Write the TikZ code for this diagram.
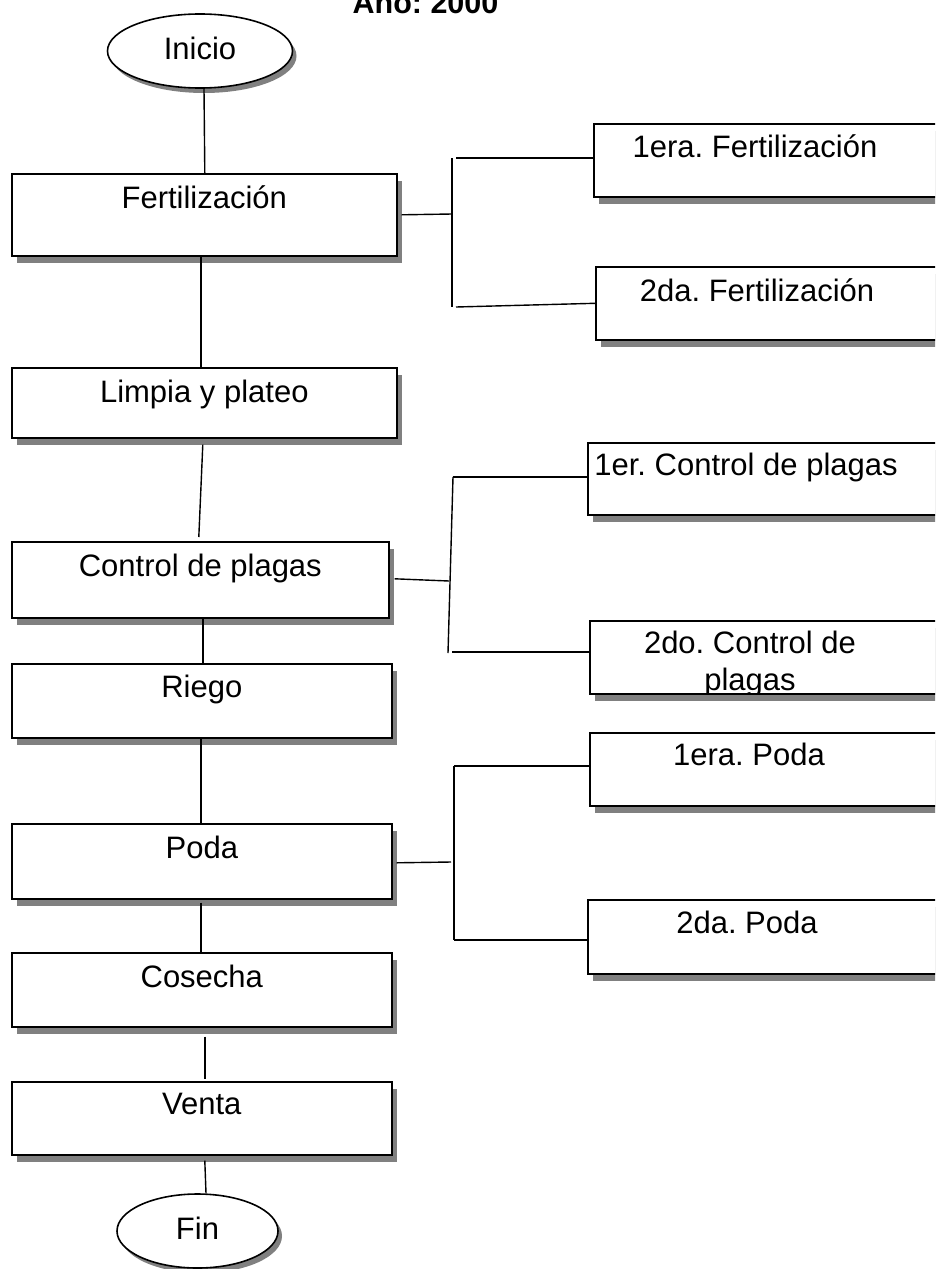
\documentclass[tikz,border=0pt]{standalone}
\usepackage{fontspec}
\setmainfont{Liberation Sans}
\usetikzlibrary{shapes.geometric,shadows}
\newcommand\lbfont{\fontsize{31}{37}\selectfont}
\frenchspacing
\tikzset{
  shad/.style={drop shadow={shadow xshift=5pt, shadow yshift=-7pt, opacity=1, fill=black!50}},
  box/.style={draw, line width=1.6pt, fill=white, rectangle, inner sep=0pt, anchor=north west, shad},
  oval/.style={draw, line width=1.6pt, fill=white, ellipse, inner sep=0pt, font=\lbfont,
    text height=22pt, text depth=6pt,
    drop shadow={shadow xshift=4pt, shadow yshift=-5pt, opacity=1, fill=black!50}},
  lbl/.style={font=\lbfont, anchor=base, inner sep=0pt},
  conn/.style={line width=1.4pt},
}
\begin{document}
\begin{tikzpicture}[x=1pt,y=-1pt]
\useasboundingbox (0,0) rectangle (935,1269);
\clip (0,0) rectangle (935,1269);
\fill[white] (0,0) rectangle (935,1269);

% title
\node[anchor=base, inner sep=0pt, font=\bfseries\fontsize{30.5}{36}\selectfont] (title) at (425.5,13) {Año: 2000};

% main column
\node[oval, minimum width=185pt, minimum height=74pt] (ini) at (200,51) {Inicio};
\node[box, minimum width=385pt, minimum height=82pt] (fert)  at (11,173) {};
\node[box, minimum width=385pt, minimum height=70pt] (limp)  at (11,367) {};
\node[box, minimum width=377pt, minimum height=76pt] (ctrl)  at (11,541) {};
\node[box, minimum width=380pt, minimum height=74pt] (riego) at (11,663) {};
\node[box, minimum width=380pt, minimum height=75pt] (poda)  at (11,823) {};
\node[box, minimum width=380pt, minimum height=74pt] (cos)   at (11,952) {};
\node[box, minimum width=380pt, minimum height=73pt] (venta) at (11,1081) {};
\node[oval, minimum width=161pt, minimum height=74pt] (fin) at (197.5,1231) {Fin};

\node[lbl] (tfert)  at ([yshift=-35pt]fert.north)  {Fertilización};
\node[lbl] (tlimp)  at ([yshift=-35pt]limp.north)  {Limpia y plateo};
\node[lbl] (tctrl)  at ([yshift=-35pt]ctrl.north)  {Control de plagas};
\node[lbl] (triego) at ([yshift=-34pt]riego.north) {Riego};
\node[lbl] (tpoda)  at ([yshift=-35pt]poda.north)  {Poda};
\node[lbl] (tcos)   at ([yshift=-35pt]cos.north)   {Cosecha};
\node[lbl] (tventa) at ([yshift=-33pt]venta.north) {Venta};

% right column
\node[box, minimum width=380pt, minimum height=73pt] (f1) at (593,123) {};
\node[box, minimum width=380pt, minimum height=73pt] (f2) at (595,266) {};
\node[box, minimum width=380pt, minimum height=72pt] (c1) at (587,442) {};
\node[box, minimum width=380pt, minimum height=73pt] (c2) at (589,620) {};
\node[box, minimum width=380pt, minimum height=73pt] (p1) at (589,732) {};
\node[box, minimum width=380pt, minimum height=74pt] (p2) at (587,899) {};

\node[lbl] (tf1) at ([xshift=162pt,yshift=-34pt]f1.north west) {1era. Fertilización};
\node[lbl] (tf2) at ([xshift=162pt,yshift=-35pt]f2.north west) {2da. Fertilización};
\node[lbl] (tc1) at ([xshift=159pt,yshift=-33pt]c1.north west) {1er. Control de plagas};
\node[lbl] (tc2a) at ([xshift=161pt,yshift=-33pt]c2.north west) {2do. Control de};
\begin{scope}
  \clip ([yshift=-0.8pt]c2.north west) rectangle ([yshift=0.8pt]c2.south east);
  \node[lbl] (tc2b) at ([xshift=161pt,yshift=-70pt]c2.north west) {plagas};
\end{scope}
\node[lbl] (tp1) at ([xshift=160pt,yshift=-33pt]p1.north west) {1era. Poda};
\node[lbl] (tp2) at ([xshift=160pt,yshift=-34pt]p2.north west) {2da. Poda};

% main connectors
\draw[conn] ([xshift=4pt]ini.south) -- ([xshift=0.5pt]fert.north);
\draw[conn] ([xshift=-3.5pt]fert.south) -- ([xshift=-3.5pt]limp.north);
\draw[conn] ([xshift=-1.5pt,yshift=-6pt]limp.south) -- ([xshift=-1.5pt,yshift=4pt]ctrl.north);
\draw[conn] ([xshift=2.5pt]ctrl.south) -- ([xshift=1pt]riego.north);
\draw[conn] ([xshift=-1pt]riego.south) -- ([xshift=-1pt]poda.north);
\draw[conn] ([xshift=-1pt,yshift=-3pt]poda.south) -- ([xshift=-1pt]cos.north);
\draw[conn] ([xshift=3pt,yshift=-9pt]cos.south) -- ([xshift=3pt,yshift=2pt]venta.north);
\draw[conn] ([xshift=3pt,yshift=-5pt]venta.south) -- ([xshift=8.5pt]fin.north);

% Fertilizacion branch
\coordinate (fjt) at (452,158);
\coordinate (fjm) at (452,214);
\coordinate (fjb) at (452,307);
\draw[conn] ([xshift=4pt]fert.east) -- (fjm);
\draw[conn] (fjt) -- (fjb);
\draw[conn] ([xshift=4pt]fjt) -- (fjt -| f1.west);
\draw[conn] ([xshift=4pt]fjb) -- (f2.west);

% Control branch
\coordinate (cjt) at (453,477);
\coordinate (cjm) at (449,581);
\coordinate (cjb) at (448,653);
\draw[conn] ([xshift=5pt,yshift=1pt]ctrl.east) -- (cjm);
\draw[conn] (cjt) -- (cjb);
\draw[conn] (cjt) -- (cjt -| c1.west);
\draw[conn] ([xshift=4pt,yshift=1pt]cjb) -- ([yshift=1pt]cjb -| c2.west);

% Poda branch
\coordinate (pjt) at (454,766);
\coordinate (pjm) at (451,862);
\coordinate (pjb) at (454,940);
\draw[conn] ([xshift=4pt,yshift=-1.5pt]poda.east) -- (pjm);
\draw[conn] (pjt) -- (pjb);
\draw[conn] (pjt) -- (pjt -| p1.west);
\draw[conn] (pjb) -- (pjb -| p2.west);
\end{tikzpicture}
\end{document}
